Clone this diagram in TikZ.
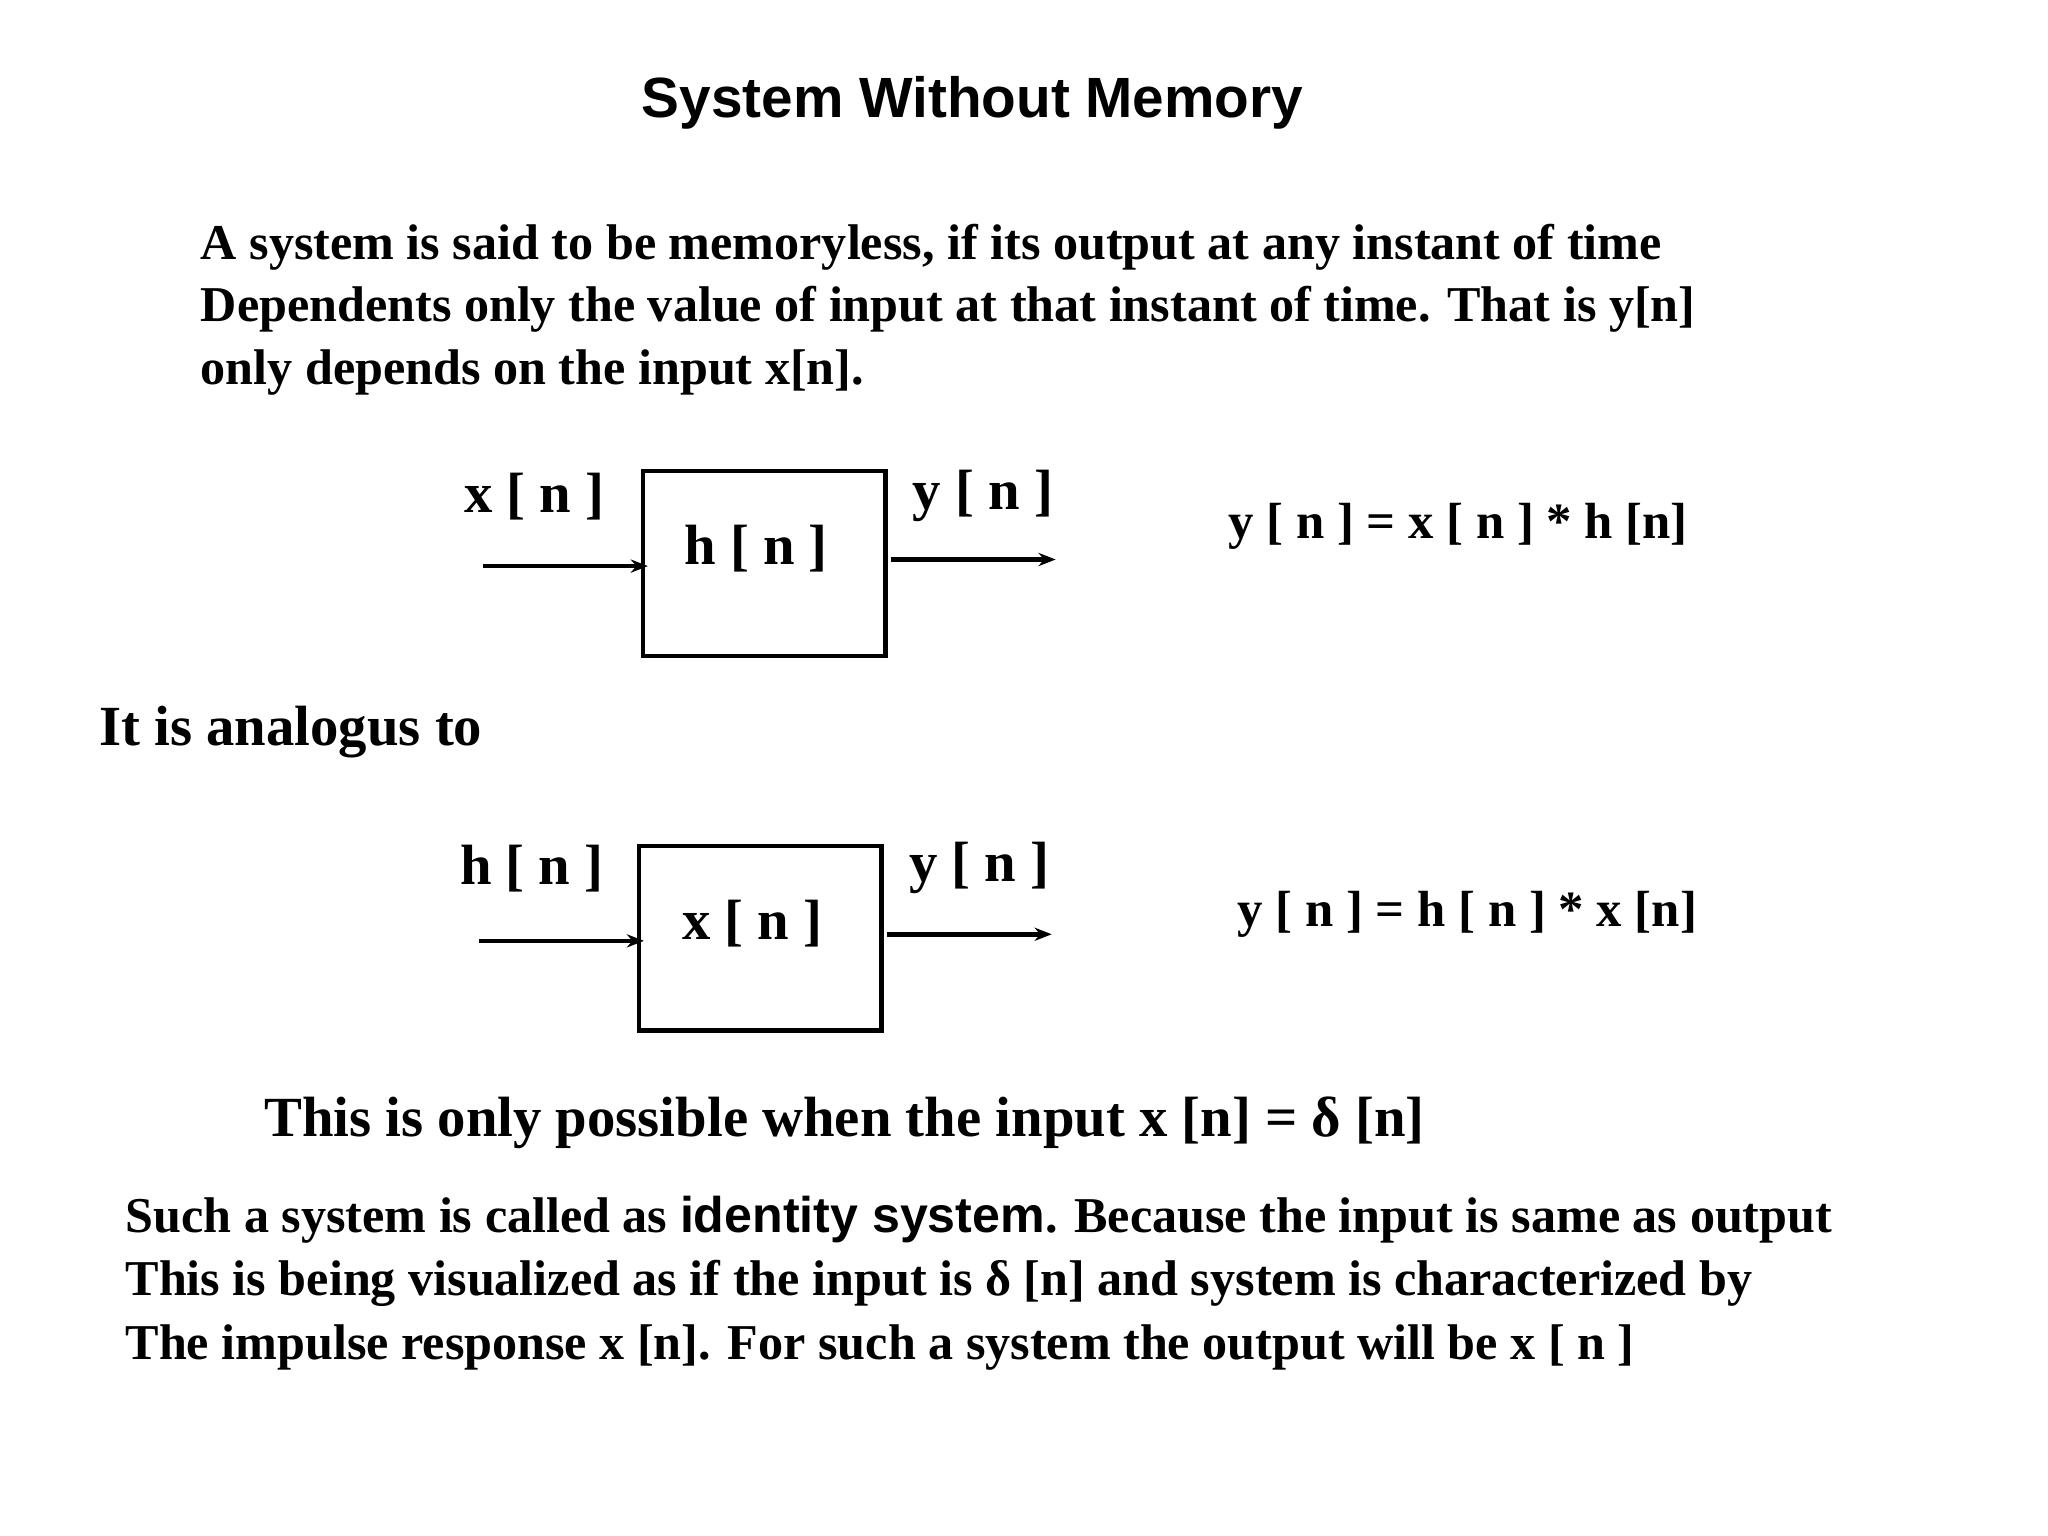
\documentclass[tikz,border=0pt]{standalone}
\usepackage{fontspec}
\setmainfont{Liberation Serif}
\newfontfamily\sansf{Liberation Sans}
\usetikzlibrary{arrows.meta}
\begin{document}
\begin{tikzpicture}[x=1pt,y=-1pt,
  body/.style={anchor=base west,inner sep=0pt,font=\fontsize{38}{44}\selectfont\bfseries},
  big/.style={anchor=base west,inner sep=0pt,font=\fontsize{43}{50}\selectfont\bfseries},
  lab/.style={inner sep=0pt,font=\fontsize{43}{50}\selectfont\bfseries},
  eq/.style={inner sep=0pt,font=\fontsize{38.5}{45}\selectfont\bfseries},
  blk/.style={draw,line width=3.2pt,minimum width=184pt,minimum height=140pt,inner sep=0pt},
  arr/.style={line width=3.5pt,-{Stealth[length=13pt,width=10pt]}}]
\useasboundingbox (0,0) rectangle (1552,1164);
\node[inner sep=0pt,font=\sansf\fontsize{43}{50}\selectfont\bfseries] (title) at (737,78) {System Without Memory};
\node[body] (l1) at (152,197) {A system is said to be memoryless, if its output at any instant of time};
\node[body] (l2) at (152,244) {Dependents only the value of input at that instant of time. That is y[n]};
\node[body] (l3) at (152,291) {only depends on the input x[n].};
% block 1
\node[blk] (b1) at (579,427) {};
\node[lab] (b1t) at (573,416) {h [ n ]};
\node[lab] (x1) at (405,376) {x [ n ]};
\node[lab] (y1) at (745,376) {y [ n ]};
\coordinate (i1) at (366,429); \coordinate (i1e) at (491,429);
\coordinate (o1) at (675,424); \coordinate (o1e) at (800,424);
\draw[arr] (i1) -- (i1e);
\draw[arr] (o1) -- (o1e);
\node[eq] (e1) at (1105,399) {y [ n ] = x [ n ] * h [n]};
\node[big] (an) at (75,565) {It is analogus to};
% block 2
\node[blk] (b2) at (576,711) {};
\node[lab] (b2t) at (570,700) {x [ n ]};
\node[lab] (h2) at (403,658) {h [ n ]};
\node[lab] (y2) at (742,658) {y [ n ]};
\coordinate (i2) at (363,713); \coordinate (i2e) at (488,713);
\coordinate (o2) at (672,708); \coordinate (o2e) at (797,708);
\draw[arr] (i2) -- (i2e);
\draw[arr] (o2) -- (o2e);
\node[eq] (e2) at (1112,693) {y [ n ] = h [ n ] * x [n]};
\node[big] (pos) at (200,861) {This is only possible when the input x [n] = δ [n]};
\node[body] (m1) at (95,934) {Such a system is called as {\sansf\fontsize{38}{44}\selectfont identity system}. Because the input is same as output};
\node[body] (m2) at (95,982) {This is being visualized as if the input is δ [n] and system is characterized by};
\node[body] (m3) at (95,1030) {The impulse response x [n]. For such a system the output will be x [ n ]};
\end{tikzpicture}
\end{document}
